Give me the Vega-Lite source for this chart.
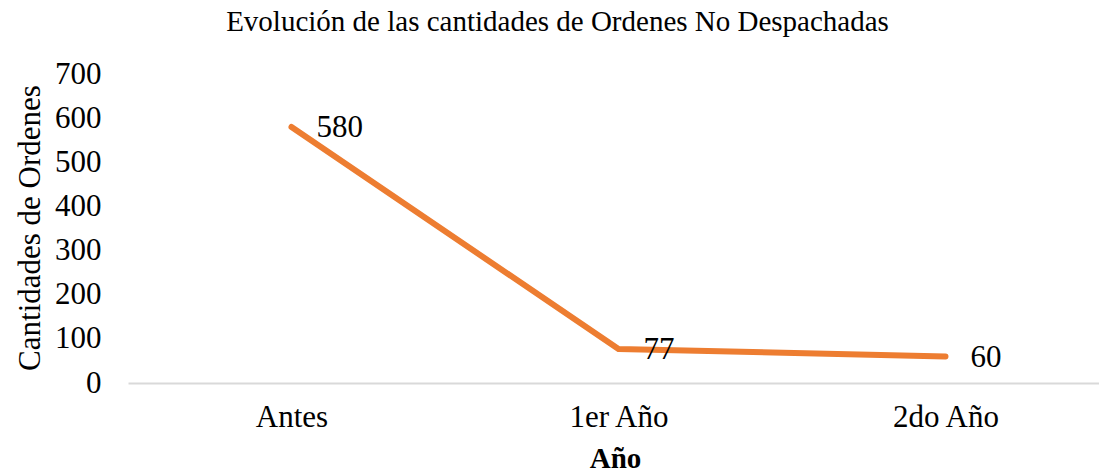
{
  "$schema": "https://vega.github.io/schema/vega-lite/v6.json",
  "autosize": {"type": "none"},
  "padding": {"left": 128, "top": 74, "right": 0, "bottom": 91},
  "width": 981,
  "height": 309,
  "background": "white",
  "title": {
    "text": "Evolución de las cantidades de Ordenes No Despachadas",
    "font": "Liberation Serif",
    "fontSize": 29,
    "fontWeight": "normal",
    "color": "#000000",
    "anchor": "middle",
    "frame": "group",
    "baseline": "alphabetic",
    "dx": -61,
    "offset": -2
  },
  "config": {
    "view": {"stroke": null},
    "font": "Liberation Serif"
  },
  "data": {
    "values": [
      {"periodo": "Antes", "ordenes": 580},
      {"periodo": "1er Año", "ordenes": 77},
      {"periodo": "2do Año", "ordenes": 60}
    ]
  },
  "encoding": {
    "x": {
      "field": "periodo",
      "type": "nominal",
      "sort": null,
      "scale": {"paddingInner": 0, "paddingOuter": 0.5},
      "axis": {
        "title": "Año",
        "titleFont": "Liberation Serif",
        "titleFontSize": 29,
        "titleFontWeight": "bold",
        "titleColor": "#000000",
        "titleX": 487,
        "titleY": 84,
        "titleBaseline": "alphabetic",
        "titleAlign": "center",
        "labelAngle": 0,
        "labelFont": "Liberation Serif",
        "labelFontSize": 31,
        "labelColor": "#000000",
        "labelPadding": 19,
        "ticks": false,
        "domainColor": "#d9d9d9",
        "domainWidth": 2,
        "grid": false
      }
    },
    "y": {
      "field": "ordenes",
      "type": "quantitative",
      "scale": {"domain": [0, 700], "nice": false},
      "axis": {
        "title": "Cantidades de Ordenes",
        "titleFont": "Liberation Serif",
        "titleFontSize": 31,
        "titleFontWeight": "normal",
        "titleColor": "#000000",
        "titleAngle": -90,
        "titleX": -98,
        "titleY": 153.5,
        "titleAlign": "center",
        "titleBaseline": "middle",
        "values": [0, 100, 200, 300, 400, 500, 600, 700],
        "labelFont": "Liberation Serif",
        "labelFontSize": 31,
        "labelColor": "#000000",
        "labelPadding": 27,
        "ticks": false,
        "domain": false,
        "grid": false
      }
    }
  },
  "layer": [
    {
      "mark": {"type": "line", "color": "#ED7D31", "strokeWidth": 6, "strokeCap": "round", "strokeJoin": "round"}
    },
    {
      "mark": {"type": "text", "align": "left", "baseline": "middle", "dx": 25, "dy": 1, "font": "Liberation Serif", "fontSize": 31, "color": "#000000"},
      "encoding": {"text": {"field": "ordenes", "type": "quantitative"}}
    }
  ]
}
